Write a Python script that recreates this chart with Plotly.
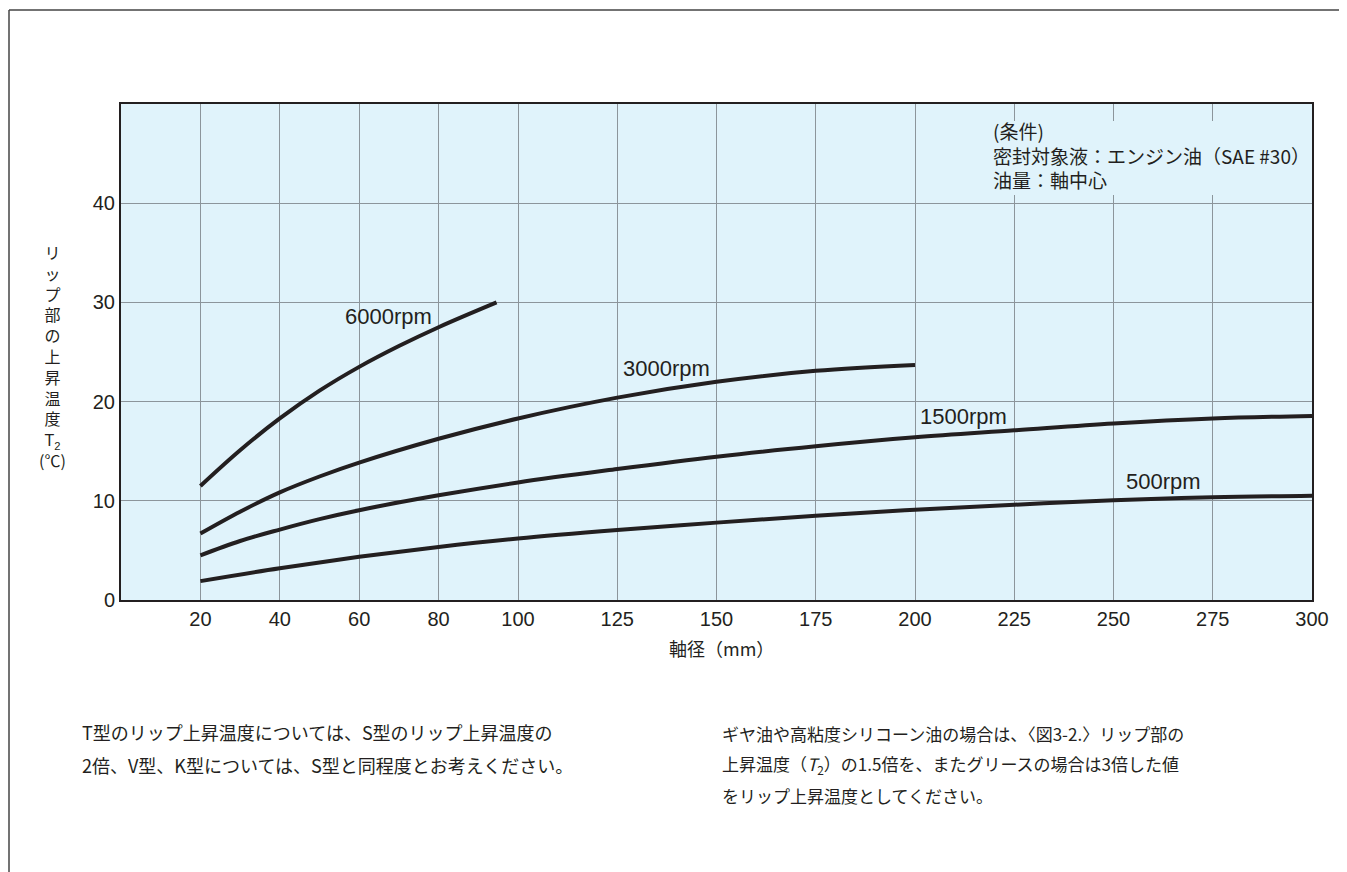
import plotly.graph_objects as go

# shaft diameter (mm) and lip temperature rise T2 (degC)
x_500 = [20, 40, 60, 80, 100, 125, 150, 175, 200, 225, 250, 275, 300]
y_500 = [1.9, 3.2, 4.35, 5.35, 6.2, 7.05, 7.8, 8.5, 9.1, 9.6, 10.05, 10.35, 10.5]

x_1500 = [20, 30, 40, 50, 60, 80, 100, 125, 150, 175, 200, 225, 250, 275, 300]
y_1500 = [4.5, 5.95, 7.1, 8.15, 9.05, 10.55, 11.85, 13.2, 14.45, 15.5, 16.4, 17.1, 17.8, 18.3, 18.55]

x_3000 = [20, 30, 40, 50, 60, 80, 100, 125, 150, 175, 200]
y_3000 = [6.7, 8.9, 10.85, 12.45, 13.85, 16.25, 18.3, 20.4, 22.0, 23.1, 23.7]

x_6000 = [20, 30, 40, 50, 60, 70, 80, 94.6]
y_6000 = [11.5, 15.1, 18.3, 21.1, 23.5, 25.6, 27.5, 30.0]

x_ticks = [20, 40, 60, 80, 100, 125, 150, 175, 200, 225, 250, 275, 300]
y_ticks = [0, 10, 20, 30, 40]

series = [
    ("500rpm", x_500, y_500, 262.7, 11.9),
    ("1500rpm", x_1500, y_1500, 212.3, 18.5),
    ("3000rpm", x_3000, y_3000, 137.5, 23.3),
    ("6000rpm", x_6000, y_6000, 67.5, 28.6),
]

cond_lines = ["(条件)", "密封対象液：エンジン油（SAE #30）", "油量：軸中心"]
ytitle_lines = ["リ", "ッ", "プ", "部", "の", "上", "昇", "温", "度",
                "<span style='font-family:Liberation Sans'>T<sub>2</sub></span>", "(℃)"]
note_left = ["T型のリップ上昇温度については、S型のリップ上昇温度の",
             "2倍、V型、K型については、S型と同程度とお考えください。"]
note_right = ["ギヤ油や高粘度シリコーン油の場合は、〈図3-2.〉リップ部の",
              "上昇温度（<i>T</i><sub>2</sub>）の1.5倍を、またグリースの場合は3倍した値",
              "をリップ上昇温度としてください。"]

INK = "#231f20"
LAT = "Liberation Sans, Arial, sans-serif"
JP = "Noto Sans CJK JP, sans-serif"

# page has an 8px body margin, so the figure is shifted by that much
OFF = 8
W, H = 1347 - OFF, 872 - OFF
L, R, T, B = 121, 1312, 104, 600  # plot area in page pixels


def px(x):
    return (x - L) / (R - L)


def py(y):
    return (B - y) / (B - T)


def note(x, y, text, size=18, family=JP, xanchor="center"):
    fig.add_annotation(xref="paper", yref="paper", x=px(x), y=py(y), text=text,
                       xanchor=xanchor, yanchor="middle", showarrow=False, align="left" if xanchor == "left" else "center",
                       font=dict(family=family, size=size, color=INK))


fig = go.Figure()
for name, xs, ys, lx, ly in series:
    fig.add_trace(go.Scatter(x=xs, y=ys, mode="lines", name=name,
                             line=dict(color=INK, width=4, shape="spline", smoothing=1.0),
                             showlegend=False, hoverinfo="skip"))
    fig.add_annotation(x=lx, y=ly, text=name, showarrow=False,
                       xanchor="center", yanchor="middle",
                       font=dict(family=LAT, size=22, color=INK))

# conditions box
fig.add_shape(type="rect", xref="paper", yref="paper",
              x0=px(982), x1=px(1308), y0=py(121), y1=py(195),
              fillcolor="#e0f3fb", line=dict(width=0), layer="above")
note(991, 155, "<br>".join(cond_lines), size=19, xanchor="left")

# y title, stacked
note(52, 356, "<br>".join(ytitle_lines), size=16)

# x title
note(721, 648, "軸径（mm）", size=18)

# notes below the chart
for i, t in enumerate(note_left):
    note(80, 732 + 33 * i, t, xanchor="left")
for i, t in enumerate(note_right):
    note(720, 733 + 31.5 * i, t, size=17, xanchor="left")

# page frame (left and top)
fig.add_shape(type="line", xref="paper", yref="paper", x0=px(9), x1=px(9), y0=py(10), y1=py(900),
              line=dict(color="#444444", width=1.5))
fig.add_shape(type="line", xref="paper", yref="paper", x0=px(9), x1=px(1400), y0=py(10), y1=py(10),
              line=dict(color="#444444", width=1.5))

fig.update_xaxes(range=[0, 300], tickvals=x_ticks, ticks="", showgrid=True,
                 gridcolor="#8c959b", gridwidth=1, zeroline=False,
                 showline=True, linecolor=INK, linewidth=2, mirror=True,
                 tickfont=dict(family=LAT, size=20, color=INK))
fig.update_yaxes(range=[0, 50], tickvals=y_ticks, ticks="", showgrid=True,
                 gridcolor="#8c959b", gridwidth=1, zeroline=False,
                 showline=True, linecolor=INK, linewidth=2, mirror=True,
                 tickfont=dict(family=LAT, size=20, color=INK))

fig.update_layout(width=W, height=H,
                  margin=dict(l=L - OFF, r=W - (R - OFF), t=T - OFF, b=H - (B - OFF)),
                  plot_bgcolor="#e0f3fb", paper_bgcolor="white", showlegend=False)

fig.write_html("out.html")
